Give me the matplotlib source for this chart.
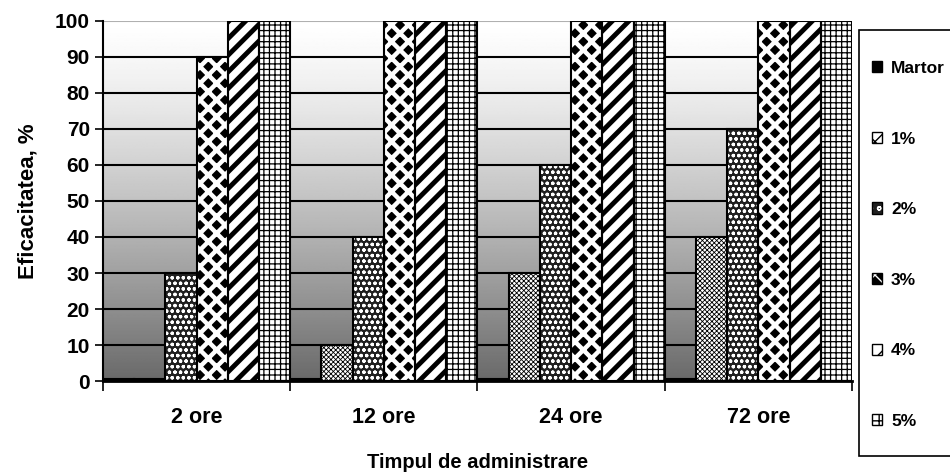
import matplotlib.pyplot as plt
import matplotlib as mpl
import numpy as np
from matplotlib.patches import Patch, Rectangle

plt.rcParams['font.family'] = ['Liberation Sans', 'DejaVu Sans']
plt.rcParams['font.weight'] = 'bold'

# data
groups = ["2 ore", "12 ore", "24 ore", "72 ore"]
series = ["Martor", "1%", "2%", "3%", "4%", "5%"]
martor = [0.6, 0.6, 0.6, 0.6]
p1 = [0.6, 10, 30, 40]
p2 = [30, 40, 60, 70]
p3 = [90, 100, 100, 100]
p4 = [100, 100, 100, 100]
p5 = [100, 100, 100, 100]
values = [martor, p1, p2, p3, p4, p5]

# face colour, hatch colour, hatch, hatch line width for each series
styles = [
    ("black", "black", None, 1.0),
    ("white", "black", "xxxxxxx", 0.6),
    ("#202020", "white", "ooo", 0.9),
    ("black", "white", "xx", 3.2),
    ("white", "black", "//", 3.5),
    ("white", "black", "+++", 0.9),
]

fig = plt.figure(figsize=(9.5, 4.74), dpi=100)
ax = fig.add_axes([0.1084, 0.1962, 0.7884, 0.7595])

# gradient background: white at top, dark grey at bottom
t = np.linspace(0, 1, 256)[:, None]
shade = (255 - 150 * t ** 1.3) / 255
ax.imshow(np.repeat(shade, 2, axis=1), cmap="gray", vmin=0, vmax=1,
          extent=[-0.5, 3.5, 0, 100], aspect="auto", zorder=0, origin="upper")

# horizontal gridlines
for yv in range(10, 100, 10):
    ax.axhline(yv, color="black", lw=1.5, zorder=1)
ax.axhline(100, color="#b0b0b0", lw=1.5, zorder=1)

x = np.arange(len(groups))
w = 1 / 6
handles = []
for j, (name, vals, st) in enumerate(zip(series, values, styles)):
    face, hcol, hatch, hlw = st
    pos = x + (j - 2.5) * w
    # fill, then hatch lines in their own colour, then black outline
    ax.bar(pos, vals, width=w, color=face, linewidth=0, zorder=2)
    parts = [Patch(facecolor=face, linewidth=0)]
    if hatch:
        with mpl.rc_context({"hatch.linewidth": hlw}):
            ax.bar(pos, vals, width=w, facecolor="none", edgecolor=hcol,
                   hatch=hatch, linewidth=0, zorder=3)
        with mpl.rc_context({"hatch.linewidth": min(hlw, 1.5)}):
            parts.append(Patch(facecolor="none", edgecolor=hcol,
                               hatch=hatch[:2], linewidth=0))
    ax.bar(pos, vals, width=w, facecolor="none", edgecolor="black",
           linewidth=1.5, zorder=4)
    parts.append(Patch(facecolor="none", edgecolor="black", linewidth=1.0))
    handles.append(tuple(parts))

ax.set_xlim(-0.5, 3.5)
ax.set_ylim(0, 100)
ax.set_yticks(range(0, 101, 10))
ax.tick_params(axis="y", labelsize=15, width=1.2, length=6, direction="out")
ax.set_xticks(np.arange(-0.5, 4, 1))
ax.set_xticklabels([])
ax.set_xticks(x, minor=True)
ax.set_xticklabels(groups, minor=True, fontsize=15.5)
ax.tick_params(axis="x", which="major", width=1.2, length=7)
ax.tick_params(axis="x", which="minor", length=0, pad=19)
for s in ["top", "right"]:
    ax.spines[s].set_visible(False)
ax.spines["left"].set_linewidth(1.5)
ax.spines["bottom"].set_linewidth(2)
ax.set_ylabel("Eficacitatea, %", fontsize=16, fontweight="bold", labelpad=12)
ax.set_xlabel("Timpul de administrare", fontsize=14.5, fontweight="bold")
ax.xaxis.set_label_coords(0.5, -0.225)
ax.xaxis.label.set_va("center")

# legend box
fig.patches.append(Rectangle((859 / 950, 1 - 456 / 474), 100 / 950, 426 / 474,
                             transform=fig.transFigure, facecolor="white",
                             edgecolor="black", linewidth=1.2))
leg = fig.legend(handles=handles, labels=series, loc="upper left",
                 bbox_to_anchor=(872 / 950, 1 - 61 / 474),
                 prop={"size": 12.5, "weight": "bold"},
                 handlelength=0.6, handleheight=0.6,
                 handletextpad=0.5, labelspacing=3.2, borderpad=0,
                 borderaxespad=0, frameon=False)

fig.savefig("out.png", dpi=100)
